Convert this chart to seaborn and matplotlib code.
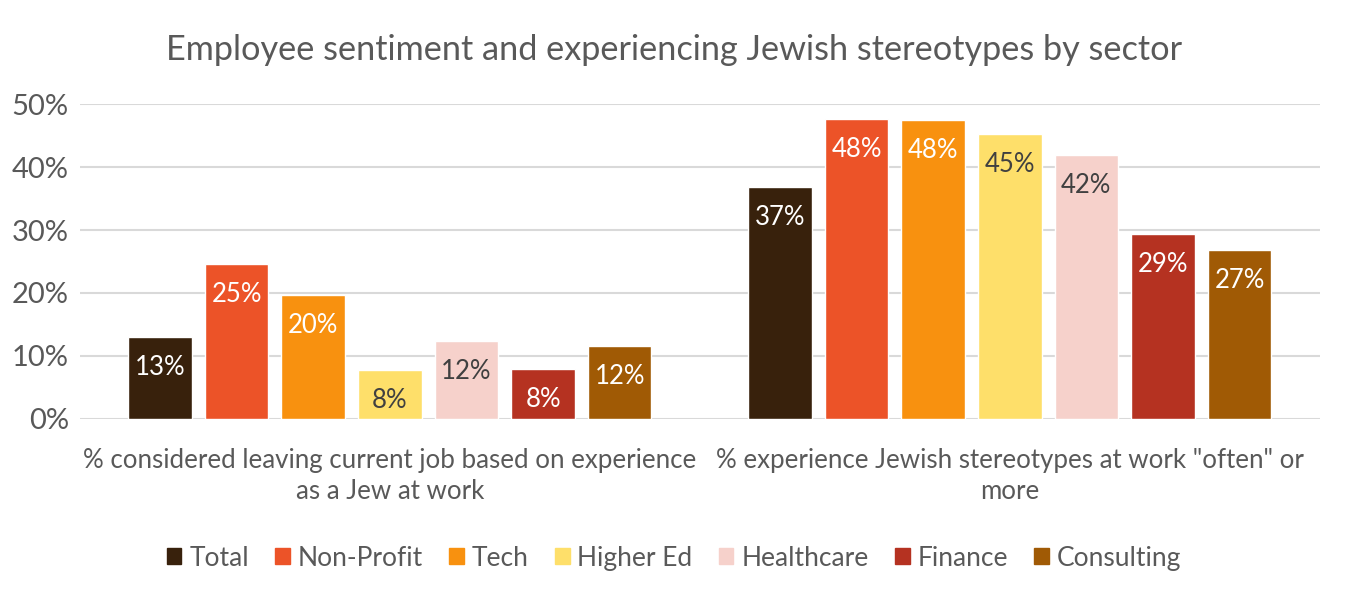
import pandas as pd
import numpy as np
import matplotlib.pyplot as plt
import seaborn as sns

# 数据
sectors = ['Total', 'Non-Profit', 'Tech', 'Higher Ed', 'Healthcare', 'Finance', 'Consulting']
measures = ['% considered leaving current job based on experience\nas a Jew at work',
            '% experience Jewish stereotypes at work "often" or\nmore']
leaving = [0.130, 0.246, 0.197, 0.077, 0.124, 0.080, 0.116]
stereotypes = [0.369, 0.476, 0.475, 0.452, 0.419, 0.293, 0.269]
colors = ['#38210c', '#ec5328', '#f8910f', '#fedf6a', '#f6d1cb', '#b53221', '#a05a05']
label_colors = ['white', 'white', 'white', '#404040', '#404040', 'white', 'white']

sns.set_theme(style='white')
plt.rcParams['font.family'] = ['Lato', 'DejaVu Sans']
grey = '#595959'

data = pd.DataFrame({
    'measure': [measures[0]] * len(sectors) + [measures[1]] * len(sectors),
    'sector': sectors * 2,
    'value': leaving + stereotypes,
})

fig = plt.figure(figsize=(13.48, 5.95), dpi=100)
ax = fig.add_axes([0.0593, 0.296, 0.9197, 0.529])

sns.barplot(data=data, x='measure', y='value', hue='sector', hue_order=sectors,
            palette=colors, width=0.865, gap=0.17, ax=ax, legend=False,
            saturation=1)

# 柱内标签
for cont, c in zip(ax.containers, label_colors):
    ax.bar_label(cont, labels=['{:.0f}%'.format(v * 100) for v in cont.datavalues],
                 label_type='edge', padding=-31, color=c, fontsize=18.5)

ax.set_ylim(0, 0.5)
ax.set_xlim(-0.5, 1.5)
ax.set_yticks(np.arange(0, 0.51, 0.1))
ax.set_yticklabels(['{:.0f}%'.format(t * 100) for t in np.arange(0, 0.51, 0.1)])
ax.yaxis.grid(True, color='#d9d9d9', linewidth=1.5)
ax.set_axisbelow(True)
for s in ax.spines.values():
    s.set_visible(False)
ax.tick_params(axis='y', length=0, labelsize=21, labelcolor=grey, pad=8)
ax.tick_params(axis='x', length=0, labelsize=18.6, labelcolor=grey, pad=21)
for t in ax.get_xticklabels():
    t.set_linespacing(1.3)
ax.set_xlabel('')
ax.set_ylabel('')

fig.suptitle('Employee sentiment and experiencing Jewish stereotypes by sector',
             x=0.5, y=0.916, va='center', fontsize=24.7, color=grey)

handles = [plt.Rectangle((0, 0), 1, 1, color=c) for c in colors]
fig.legend(handles, sectors, loc='center', bbox_to_anchor=(0.5, 0.062), ncol=7,
           frameon=False, fontsize=19, labelcolor=grey, handlelength=0.55,
           handleheight=0.55, handletextpad=0.3, columnspacing=1.0)

plt.savefig('out.png', dpi=100)
